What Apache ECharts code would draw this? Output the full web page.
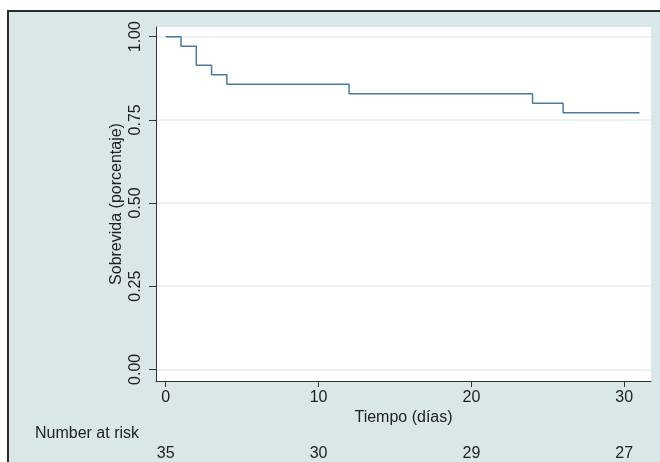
<!DOCTYPE html>
<html>
<head>
<meta charset="utf-8">
<script src="https://cdn.jsdelivr.net/npm/echarts@6/dist/echarts.min.js"></script>
<style>
html,body{margin:0;padding:0;background:#ffffff;}
#c{width:660px;height:462px;}
</style>
</head>
<body>
<div id="c"></div>
<script>
// Kaplan-Meier data
var times = [0, 1, 2, 3, 4, 12, 24, 26, 31];
var survival = [1.0, 0.9714, 0.9143, 0.8857, 0.8571, 0.8286, 0.8000, 0.7714, 0.7714];
var xTicks = [0, 10, 20, 30];
var yTicks = [0, 0.25, 0.5, 0.75, 1.0];
var atRisk = [35, 30, 29, 27];

var font = 'Liberation Sans, Arial, Helvetica, sans-serif';
var txt = '#222222';
var fs = 16;

var chart = echarts.init(document.getElementById('c'), null, {renderer: 'canvas'});
var seriesData = times.map(function (t, i) { return [t, survival[i]]; });

chart.setOption({
  animation: false,
  backgroundColor: 'transparent',
  graphic: [
    {type: 'rect', z: -100, shape: {x: 8, y: 11, width: 700, height: 500},
     style: {fill: '#d9e7e9', stroke: '#2b2b2b', lineWidth: 2}},
    {type: 'text', left: 35, top: 426, z: 10,
     style: {text: 'Number at risk', font: fs + 'px ' + font, fill: txt}}
  ],
  grid: {left: 156, top: 27, right: 9, bottom: 81, show: true,
         backgroundColor: '#ffffff', borderWidth: 0},
  xAxis: [
    {type: 'value', min: -0.635, max: 31.75, position: 'bottom',
     name: 'Tiempo (días)', nameLocation: 'middle', nameGap: 29, nameMoveOverlap: false,
     nameTextStyle: {fontFamily: font, fontSize: fs, color: txt},
     axisLine: {show: true, onZero: false, lineStyle: {color: '#333', width: 1}},
     axisTick: {show: true, length: 6, customValues: xTicks, lineStyle: {color: '#333'}},
     axisLabel: {customValues: xTicks, margin: 9, fontFamily: font, fontSize: fs, color: txt},
     splitLine: {show: false}},
    {type: 'value', min: -0.635, max: 31.75, position: 'bottom', offset: 56,
     axisLine: {show: false}, axisTick: {show: false},
     axisLabel: {customValues: xTicks, margin: 9, fontFamily: font, fontSize: fs, color: txt,
                 formatter: function (v) { var i = xTicks.indexOf(v); return i >= 0 ? String(atRisk[i]) : ''; }},
     splitLine: {show: false}}
  ],
  yAxis: {type: 'value', min: -0.035, max: 1.029,
     name: 'Sobrevida (porcentaje)', nameLocation: 'middle', nameGap: 31, nameMoveOverlap: false,
     nameTextStyle: {fontFamily: font, fontSize: fs, color: txt},
     axisLine: {show: true, onZero: false, lineStyle: {color: '#333', width: 1}},
     axisTick: {show: true, length: 7, customValues: yTicks, lineStyle: {color: '#333'}},
     axisLabel: {customValues: yTicks, rotate: 90, margin: 12, fontFamily: font, fontSize: fs, color: txt,
                 formatter: function (v) { return v.toFixed(2); }},
     splitLine: {show: true, lineStyle: {color: '#e3eef0', width: 1.5}}},
  series: [{
    type: 'line', step: 'end', data: seriesData, showSymbol: false, symbol: 'none',
    lineStyle: {color: '#4a7b9c', width: 1.5}, z: 5
  }]
});
</script>
</body>
</html>
